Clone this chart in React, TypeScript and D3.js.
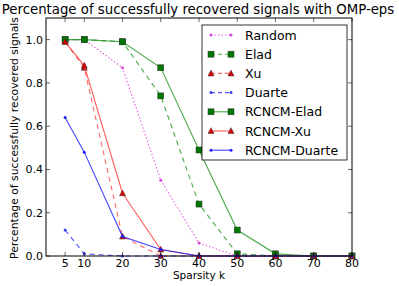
import * as React from 'react';
import * as d3 from 'd3';

// sparsity levels on the x axis
const sparsity = [5, 10, 20, 30, 40, 50, 60, 70, 80];
const xTicks = [5, 10, 20, 30, 40, 50, 60, 70, 80];
const yTicks = [0, 0.2, 0.4, 0.6, 0.8, 1.0];

const random = [1.0, 1.0, 0.87, 0.35, 0.06, 0.0, 0.0, 0.0, 0.0];
const elad = [1.0, 1.0, 0.99, 0.74, 0.24, 0.01, 0.0, 0.0, 0.0];
const xu = [0.99, 0.87, 0.09, 0.0, 0.0, 0.0, 0.0, 0.0, 0.0];
const duarte = [0.12, 0.01, 0.0, 0.0, 0.0, 0.0, 0.0, 0.0, 0.0];
const rcncmElad = [1.0, 1.0, 0.99, 0.87, 0.49, 0.12, 0.01, 0.0, 0.0];
const rcncmXu = [0.99, 0.88, 0.29, 0.03, 0.0, 0.0, 0.0, 0.0, 0.0];
const rcncmDuarte = [0.64, 0.48, 0.09, 0.03, 0.0, 0.0, 0.0, 0.0, 0.0];

interface Series {
    name: string;
    values: number[];
    color: string;
    dash: string;
    marker: 'dot' | 'square' | 'triangle';
}

const SERIES: Series[] = [
    { name: 'Random', values: random, color: '#dd44dd', dash: '1.5,2', marker: 'dot' },
    { name: 'Elad', values: elad, color: '#2a9a2a', dash: '5,4', marker: 'square' },
    { name: 'Xu', values: xu, color: '#ff5050', dash: '5,4', marker: 'triangle' },
    { name: 'Duarte', values: duarte, color: '#3a3aff', dash: '5,4', marker: 'dot' },
    { name: 'RCNCM-Elad', values: rcncmElad, color: '#2a9a2a', dash: '', marker: 'square' },
    { name: 'RCNCM-Xu', values: rcncmXu, color: '#ff4040', dash: '', marker: 'triangle' },
    { name: 'RCNCM-Duarte', values: rcncmDuarte, color: '#2020ff', dash: '', marker: 'dot' },
];

const MARGINS = { top: 18, left: 46, bottom: 30, right: 47 };
const W = 399;
const H = 286;
const FONT = 'DejaVu Sans, sans-serif';

const markerColor = (s: Series) => {
    if (s.marker === 'square') return '#007700';
    if (s.marker === 'triangle') return '#dd0000';
    return s.color;
};

const Marker = ({ s, x, y }: { s: Series; x: number; y: number }) => {
    const fill = markerColor(s);
    if (s.marker === 'square') {
        return <rect x={x - 3} y={y - 3} width={6} height={6} fill={fill} stroke="#333" strokeWidth={0.5} />;
    }
    if (s.marker === 'triangle') {
        return <path d={`M${x},${y - 3.3}L${x + 3},${y + 2.5}L${x - 3},${y + 2.5}Z`} fill={fill} stroke="#333" strokeWidth={0.5} />;
    }
    return <circle cx={x} cy={y} r={1.5} fill={fill} />;
};

export default function App() {
    const iw = W - MARGINS.left - MARGINS.right;
    const ih = H - MARGINS.top - MARGINS.bottom;

    const xScale = d3.scaleLinear().domain([0, 80]).range([0, iw]);
    const yScale = d3.scaleLinear().domain([0, 1.1]).range([ih, 0]);

    const line = d3.line<number>()
        .x((d, i) => xScale(sparsity[i]))
        .y(d => yScale(d));

    const legendX = 202 - MARGINS.left;
    const legendY = 25 - MARGINS.top;

    return (
        <svg width={W} height={H} style={{ position: 'absolute', left: 0, top: 0, background: '#fff' }}>
            <g transform={`translate(${MARGINS.left},${MARGINS.top})`}>
                {SERIES.map(s => (
                    <g key={s.name}>
                        <path d={line(s.values) || ''} fill="none" stroke={s.color} strokeWidth={1.1}
                            strokeDasharray={s.dash} opacity={0.85} />
                        {s.values.map((v, i) => (
                            <Marker key={i} s={s} x={xScale(sparsity[i])} y={yScale(v)} />
                        ))}
                    </g>
                ))}

                {/* frame */}
                <rect x={0} y={0} width={iw} height={ih} fill="none" stroke="#000" strokeWidth={1} />

                {/* x ticks */}
                {xTicks.map(t => (
                    <g key={'x' + t}>
                        <line x1={xScale(t)} x2={xScale(t)} y1={ih} y2={ih - 4} stroke="#000" strokeWidth={0.6} />
                        <line x1={xScale(t)} x2={xScale(t)} y1={0} y2={4} stroke="#000" strokeWidth={0.6} />
                        <text x={xScale(t)} y={ih + 11} textAnchor="middle" fontFamily={FONT} fontSize={11}>{t}</text>
                    </g>
                ))}
                {/* y ticks */}
                {yTicks.map(t => (
                    <g key={'y' + t}>
                        <line x1={0} x2={4} y1={yScale(t)} y2={yScale(t)} stroke="#000" strokeWidth={0.6} />
                        <line x1={iw} x2={iw - 4} y1={yScale(t)} y2={yScale(t)} stroke="#000" strokeWidth={0.6} />
                        <text x={-3} y={yScale(t) + 4} textAnchor="end" fontFamily={FONT} fontSize={11}>{t.toFixed(1)}</text>
                    </g>
                ))}

                <text x={iw / 2} y={ih + 22.5} textAnchor="middle" fontFamily={FONT} fontSize={10.5}>Sparsity k</text>
                <text transform={`translate(${-28},${ih / 2 + 1}) rotate(-90)`} textAnchor="middle" fontFamily={FONT} fontSize={10.8}>
                    Percentage of successfully recovered signals
                </text>

                {/* legend */}
                <g transform={`translate(${legendX},${legendY})`}>
                    <rect x={0} y={0} width={145} height={135} fill="#fff" stroke="#000" strokeWidth={0.8} />
                    {SERIES.map((s, i) => {
                        const cy = 10 + i * 19.2;
                        return (
                            <g key={'lg' + s.name}>
                                <line x1={9} x2={29} y1={cy} y2={cy} stroke={s.color} strokeWidth={1.1}
                                    strokeDasharray={s.dash ? (s.marker === 'dot' && s.dash.startsWith('1') ? s.dash : '4,3') : ''} opacity={0.85} />
                                <Marker s={s} x={9} y={cy} />
                                <Marker s={s} x={29} y={cy} />
                                <text x={43} y={cy + 4.5} fontFamily={FONT} fontSize={12.5}>{s.name}</text>
                            </g>
                        );
                    })}
                </g>
            </g>
            <rect x={0} y={0} width={W} height={17} fill="#fff" />
            <text x={198} y={14} textAnchor="middle" fontFamily={FONT} fontSize={13.3} fill="#000">
                Percentage of successfully recovered signals with OMP-eps
            </text>
        </svg>
    );
}
